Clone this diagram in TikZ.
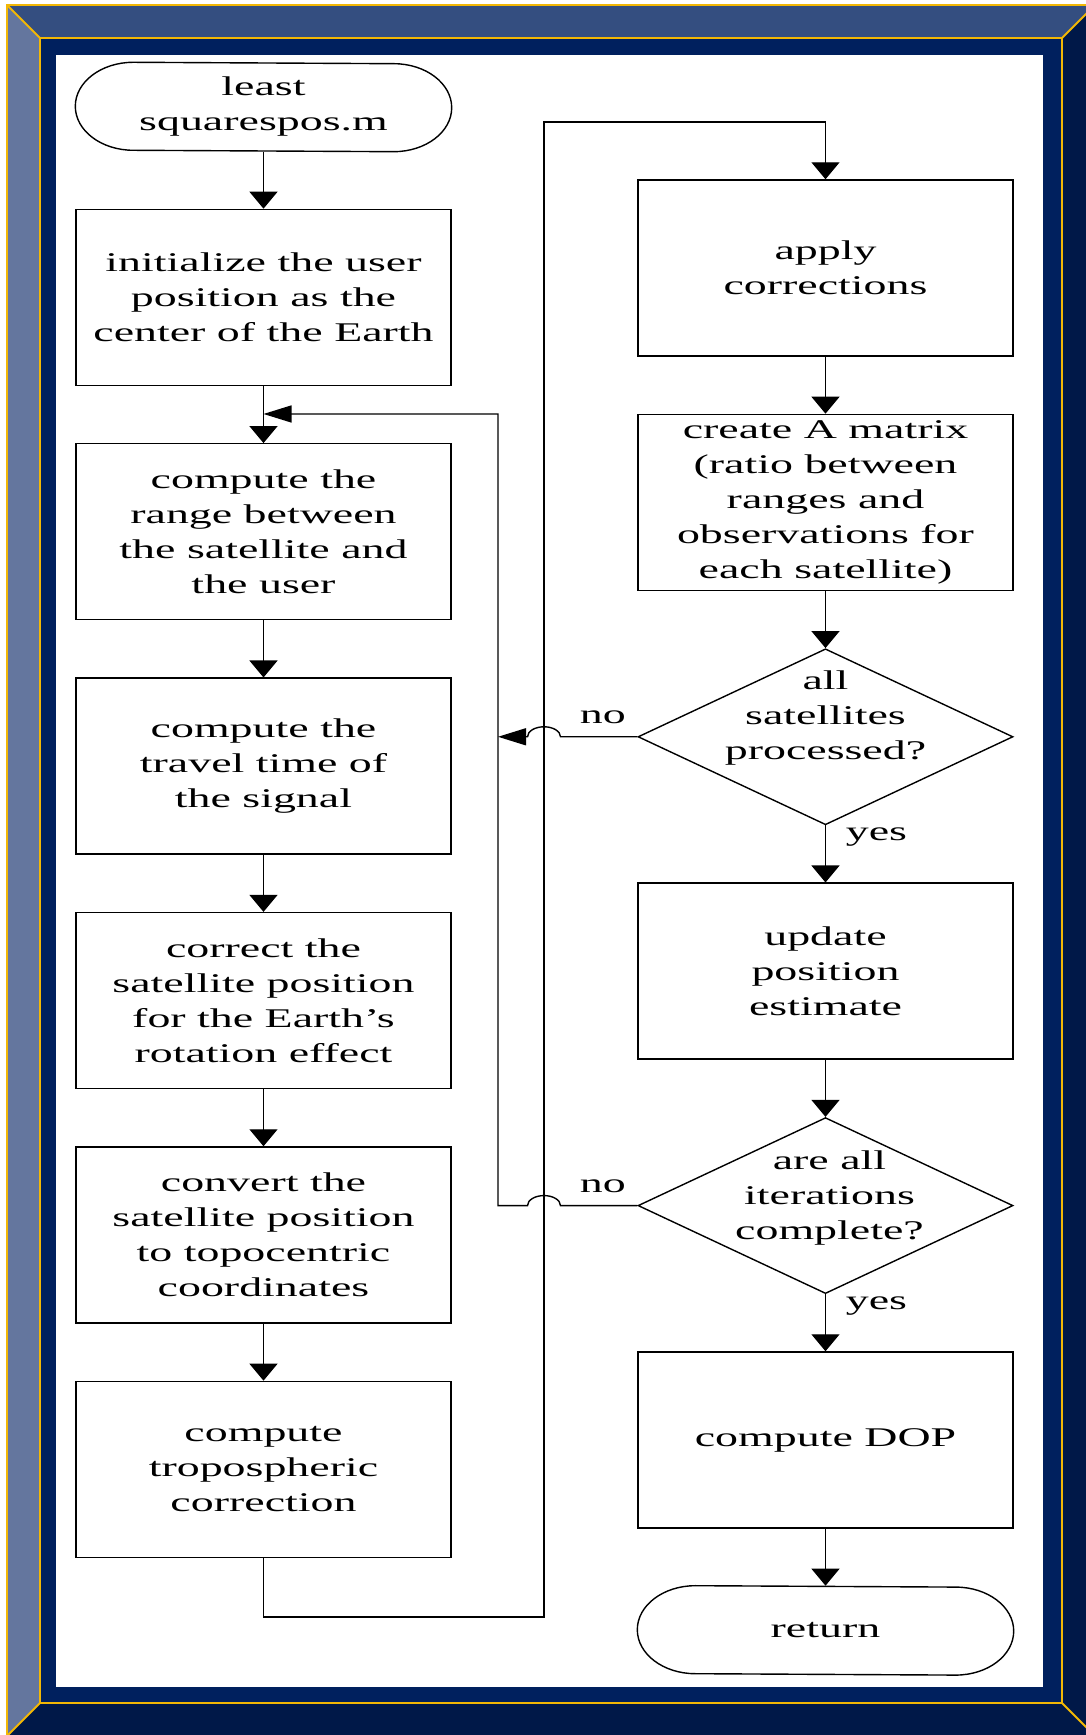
\documentclass[tikz,border=0pt]{standalone}
\usepackage{fontspec}
\setmainfont{Liberation Serif}[FakeStretch=1.7]
\usetikzlibrary{calc}
\usetikzlibrary{positioning}
\usetikzlibrary{shapes}
\usetikzlibrary{arrows.meta}
\definecolor{bevellight}{HTML}{64769E}
\definecolor{beveltop}{HTML}{344E80}
\definecolor{beveldark}{HTML}{001848}
\definecolor{bandnavy}{HTML}{00205E}
\definecolor{trimgold}{HTML}{F2B705}
\newcommand{\chartfont}{\fontsize{13.5pt}{17.5pt}\selectfont}
\tikzset{stepbox/.style={shape=rectangle, draw=black, minimum width=187.5pt, minimum height=88pt, inner sep=0pt, align=center, font=\chartfont},
  decision/.style={shape=diamond, draw=black, minimum width=187.5pt, minimum height=88pt, inner sep=0pt},
  terminal/.style={shape=rectangle, minimum width=187.5pt, minimum height=44pt, inner sep=0pt, align=center, font=\chartfont},
  answer/.style={font=\chartfont, inner sep=6pt},
  down/.style={-{Triangle[length=8.5pt,width=14pt]}},
  back/.style={-{Triangle[length=14pt,width=8.5pt]}}}

\begin{document}
\begin{tikzpicture}[x=0.5pt, y=0.5pt, line width=0.7pt, node distance=28.5pt]
  \useasboundingbox (0,0) rectangle (1086,1735);
  \clip (0,0) rectangle (1086,1735);

  % bevelled frame
  \fill[beveltop] (7,1730) -- (1095,1730) -- (1062,1697) -- (40,1697) -- cycle;
  \fill[bevellight] (7,1730) -- (40,1697) -- (40,32) -- (7,-1) -- cycle;
  \fill[beveldark] (1095,1730) -- (1062,1697) -- (1062,32) -- (1095,-1) -- cycle;
  \fill[beveldark] (7,-1) -- (40,32) -- (1062,32) -- (1095,-1) -- cycle;
  \fill[bandnavy] (40,32) rectangle (1062,1697);
  \fill[white] (56,48) rectangle (1043,1680);
  \draw[trimgold, line width=1pt] (7,-1) -- (7,1730) -- (1095,1730);
  \draw[trimgold, line width=1pt] (40,32) rectangle (1062,1697);
  \draw[trimgold, line width=1pt] (7,1730) -- (40,1697) (1062,1697) -- (1095,1730)
    (7,-1) -- (40,32) (1062,32) -- (1095,-1);

  % left column
  \node[terminal] (start) at (263.5,1628) {least\\squarespos.m};
  \node[stepbox, below=of start] (init) {initialize the user\\position as the\\center of the Earth};
  \node[stepbox, below=of init] (range) {compute the\\range between\\the satellite and\\the user};
  \node[stepbox, below=of range] (travel) {compute the\\travel time of\\the signal};
  \node[stepbox, below=of travel] (correct) {correct the\\satellite position\\for the Earth's\\rotation effect};
  \node[stepbox, below=of correct] (convert) {convert the\\satellite position\\to topocentric\\coordinates};
  \node[stepbox, below=of convert] (tropo) {compute\\tropospheric\\correction};

  % right column
  \node[stepbox] (apply) at (825.5,1467) {apply\\corrections};
  \node[stepbox, below=of apply] (matrix) {create A matrix\\(ratio between\\ranges and\\observations for\\each satellite)};
  \node[decision, below=of matrix, label={[align=center, font=\chartfont, yshift=9.5pt]center:{all\\satellites\\processed?}}] (sat) {};
  \node[stepbox, below=of sat] (update) {update\\position\\estimate};
  \node[decision, below=of update, label={[align=center, font=\chartfont, yshift=4pt, xshift=2pt]center:{are all\\iterations\\complete?}}] (iter) {};
  \node[stepbox, below=of iter] (dop) {compute DOP};
  \node[terminal, below=of dop] (stop) {return};

  % rounded ends of the terminals
  \foreach \t in {start,stop}
    \draw ([xshift=29pt]\t.north west) arc[start angle=90, end angle=270, x radius=29pt, y radius=22pt]
      -- ([xshift=-29pt]\t.south east) arc[start angle=-90, end angle=90, x radius=29pt, y radius=22pt] -- cycle;

  \foreach \a/\b in {start/init, init/range, range/travel, travel/correct, correct/convert, convert/tropo,
                     apply/matrix, matrix/sat, sat/update, update/iter, iter/dop, dop/stop}
    \draw[down] (\a) -- (\b);

  \node[answer, inner sep=0pt] at ([xshift=25.5pt,yshift=-6pt]sat.south) {yes};
  \node[answer, inner sep=0pt] at ([xshift=25.5pt,yshift=-6pt]iter.south) {yes};

  % jump between columns and the two loops
  \coordinate (lowturn) at (544,118);
  \coordinate (topturn) at (544,1613);
  \coordinate (looptop) at (498,1321);
  \draw[down] (tropo.south) |- (lowturn) -- (topturn) -| (apply.north);
  \draw[back] (sat.west) -- node[answer, above, xshift=2pt]{no} ($(sat.west -| topturn)+(16.5,0)$)
    arc[start angle=0, end angle=180, x radius=8.25pt, y radius=5pt] -- (sat.west -| looptop);
  \draw[back] (iter.west) -- node[answer, above, xshift=2pt]{no} ($(iter.west -| topturn)+(16.5,0)$)
    arc[start angle=0, end angle=180, x radius=8.25pt, y radius=5pt] -- (iter.west -| looptop)
    -- (looptop) -- (looptop -| range.north);
\end{tikzpicture}
\end{document}
